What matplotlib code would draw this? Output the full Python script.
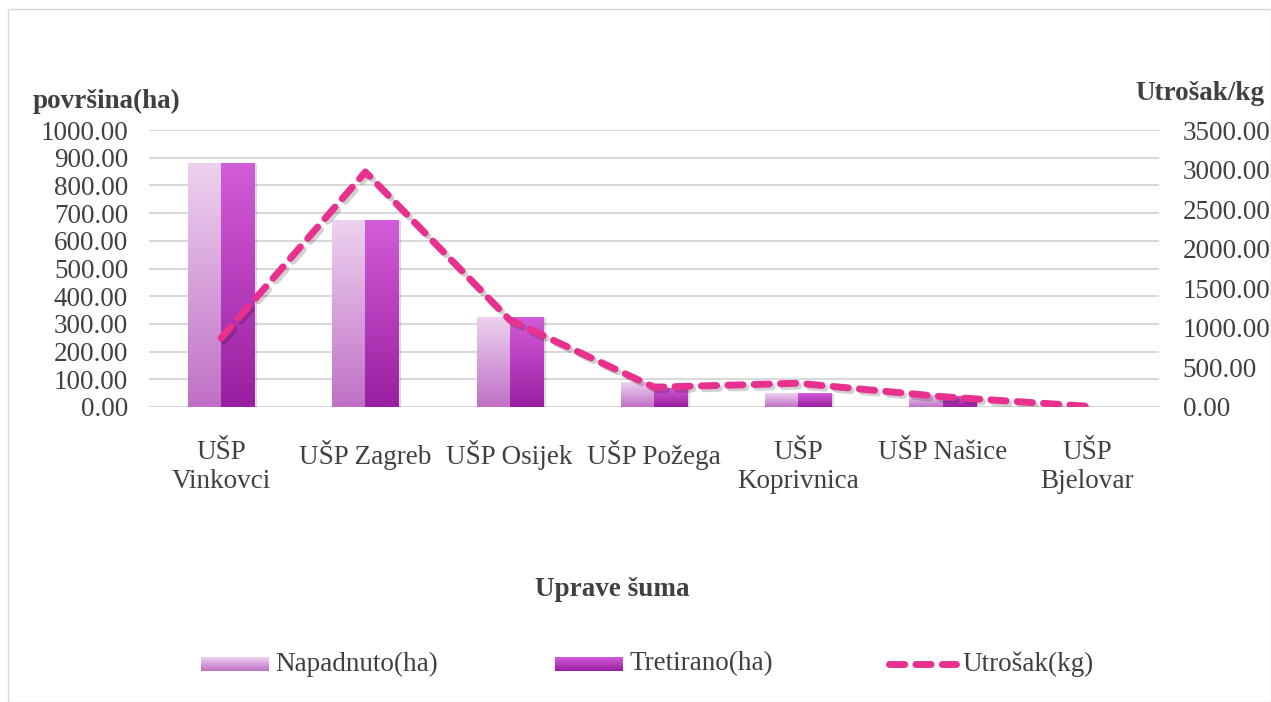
import matplotlib
matplotlib.use("Agg")
import matplotlib.pyplot as plt
import numpy as np
from matplotlib.colors import LinearSegmentedColormap
from matplotlib.patches import Rectangle
import matplotlib.patheffects as pe

categories = ["UŠP\nVinkovci", "UŠP Zagreb", "UŠP Osijek", "UŠP Požega",
              "UŠP\nKoprivnica", "UŠP Našice", "UŠP\nBjelovar"]
napadnuto = [881, 675, 325, 90, 50, 42, 0]
tretirano = [881, 675, 325, 70, 50, 40, 0]
utrosak = [870, 2970, 1100, 250, 300, 130, 10]

left_ticks = [0, 100, 200, 300, 400, 500, 600, 700, 800, 900, 1000]
right_ticks = [0, 500, 1000, 1500, 2000, 2500, 3000, 3500]

plt.rcParams['font.family'] = ['Liberation Serif', 'DejaVu Serif']
txt = '#404040'
fs = 19.5

fig = plt.figure(figsize=(12.71, 7.02), dpi=100)
ax = fig.add_axes([149/1271, 1-407/702, (1159-149)/1271, 277/702])
ax2 = ax.twinx()

x = np.arange(len(categories))
w = 0.23
cmap_n = LinearSegmentedColormap.from_list('n', ['#C070C6', '#EDD2EE'])
cmap_t = LinearSegmentedColormap.from_list('t', ['#9A1FA0', '#D35CDA'])
grad = np.linspace(0, 1, 256).reshape(-1, 1)

bars_n = ax.bar(x - w/2, napadnuto, w, color='none', zorder=3)
bars_t = ax.bar(x + w/2, tretirano, w, color='none', zorder=3)
for bars, cm in ((bars_n, cmap_n), (bars_t, cmap_t)):
    for b in bars:
        h = b.get_height()
        if h <= 0:
            continue
        x0 = b.get_x()
        sh = Rectangle((x0 + 0.012, 0), b.get_width(), h - 3, color='#000000', alpha=0.10, zorder=2)
        ax.add_patch(sh)
        im = ax.imshow(grad, cmap=cm, origin='lower', aspect='auto',
                       extent=[x0, x0 + b.get_width(), 0, h], zorder=3)
        im.set_clip_path(b)

ax.set_xlim(-0.5, len(categories) - 0.5)
ax.set_ylim(0, 1000)
ax.set_yticks(left_ticks)
ax.set_yticklabels([f"{v:.2f}" for v in left_ticks])
ax.set_xticks(x)
ax.set_xticklabels(categories, fontsize=fs, color=txt, linespacing=1.2)
ax.tick_params(axis='x', length=0, pad=24)
ax.tick_params(axis='y', length=0, labelsize=fs, labelcolor=txt, pad=15)
ax.grid(axis='y', color='#D9D9D9', lw=1.5, zorder=0)
ax.set_axisbelow(True)
for s in ax.spines.values():
    s.set_visible(False)

ax2.plot(x, utrosak, color='#E8318F', lw=5, ls=(0, (2.2, 1.6)),
         dash_capstyle='round', solid_capstyle='round', zorder=5,
         path_effects=[pe.SimpleLineShadow(offset=(2, -2), shadow_color='#000000', alpha=0.18), pe.Normal()])
ax2.set_ylim(0, 3500)
ax2.set_yticks(right_ticks)
ax2.set_yticklabels([f"{v:.2f}" for v in right_ticks])
ax2.tick_params(axis='y', length=0, labelsize=fs, labelcolor=txt, pad=17)
for s in ax2.spines.values():
    s.set_visible(False)

fig.text(33/1271, 1-101/702, "površina(ha)", fontsize=fs, fontweight='bold', color=txt, ha='left', va='center')
fig.text(1265/1271, 1-93/702, "Utrošak/kg", fontsize=fs, fontweight='bold', color=txt, ha='right', va='center')
fig.text(612/1271, 1-590/702, "Uprave šuma", fontsize=fs, fontweight='bold', color=txt, ha='center', va='center')

fig.patches.append(Rectangle((8/1271, 0), 1 - 8/1271, 1 - 9/702, transform=fig.transFigure,
                             fill=False, edgecolor='#D9D9D9', lw=1))

def legend_patch(x0, cm):
    lax = fig.add_axes([x0/1271, 1-671/702, 68/1271, 14/702])
    lax.imshow(grad, cmap=cm, origin='lower', aspect='auto', extent=[0, 1, 0, 1])
    lax.set_axis_off()

legend_patch(201, cmap_n)
fig.text(275/1271, 1-664/702, "Napadnuto(ha)", fontsize=fs, color=txt, ha='left', va='center')
legend_patch(555, cmap_t)
fig.text(629/1271, 1-664/702, "Tretirano(ha)", fontsize=fs, color=txt, ha='left', va='center')
fig.lines.append(plt.Line2D([889/1271, 956/1271], [1-664/702, 1-664/702], transform=fig.transFigure,
                            color='#E8318F', lw=5, ls=(0, (2.2, 1.6)), dash_capstyle='round'))
fig.text(962/1271, 1-664/702, "Utrošak(kg)", fontsize=fs, color=txt, ha='left', va='center')

fig.savefig("out.png", dpi=100)
